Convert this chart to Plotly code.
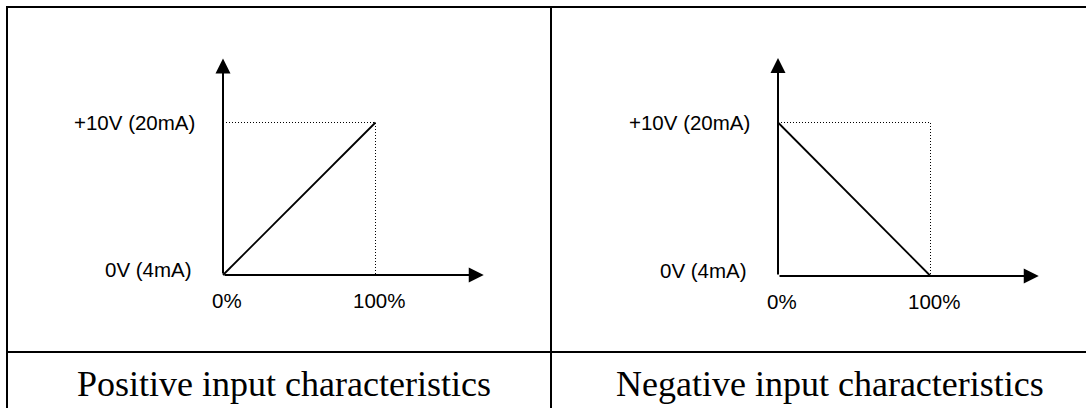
import plotly.graph_objects as go

# ---- data ----
input_pct = [0, 100]                 # x: input signal, %
positive_volts = [0, 10]             # y for positive characteristic (V)
negative_volts = [10, 0]             # y for negative characteristic (V)
x_tick_labels = ["0%", "100%"]
y_tick_labels = ["0V (4mA)", "+10V (20mA)"]
captions = ["Positive input characteristics", "Negative input characteristics"]

# ---- layout geometry (pixels) ----
W, H = 1086, 408
X_END = 171     # x-axis arrow length, in % units
Y_END = 14.2    # y-axis arrow length, in volt units
panels = [
    dict(ox=223, oy=275, x100=375.5, y10=122.5, volts=positive_volts, xa="x", ya="y", cx=284),
    dict(ox=778, oy=276, x100=930.5, y10=122.5, volts=negative_volts, xa="x2", ya="y2", cx=830),
]

SANS = "Liberation Sans, Arial, sans-serif"
SERIF = "Liberation Serif, Times New Roman, serif"

fig = go.Figure()
annotations = []
layout_axes = {}

for i, p in enumerate(panels):
    sx = (p["x100"] - p["ox"]) / input_pct[1]
    sy = (p["oy"] - p["y10"]) / max(p["volts"])
    xr = [-p["ox"] / sx, (W - p["ox"]) / sx]
    yr = [-(H - p["oy"]) / sy, p["oy"] / sy]
    suffix = "" if i == 0 else "2"
    layout_axes["xaxis" + suffix] = dict(domain=[0, 1], range=xr, visible=False, fixedrange=True,
                                         anchor="y" + suffix)
    layout_axes["yaxis" + suffix] = dict(domain=[0, 1], range=yr, visible=False, fixedrange=True,
                                         anchor="x" + suffix)
    vmax = max(p["volts"])
    # dotted guide lines at 10 V and 100 %
    fig.add_trace(go.Scatter(x=[input_pct[0], input_pct[1], input_pct[1]], y=[vmax, vmax, 0],
                             mode="lines", line=dict(color="black", width=1, dash="1px,2px"),
                             xaxis=p["xa"], yaxis=p["ya"], hoverinfo="skip"))
    # characteristic line
    fig.add_trace(go.Scatter(x=input_pct, y=p["volts"], mode="lines",
                             line=dict(color="black", width=1.8),
                             xaxis=p["xa"], yaxis=p["ya"], hoverinfo="skip"))
    # axes with arrowheads
    for (tx, ty) in [(X_END, 0), (0, Y_END)]:
        annotations.append(dict(x=tx, y=ty, ax=0, ay=0, xref=p["xa"], yref=p["ya"],
                                axref=p["xa"], ayref=p["ya"], text="", showarrow=True,
                                arrowhead=2, arrowsize=1.5, arrowwidth=2, arrowcolor="black",
                                standoff=0, startstandoff=0))
    # y labels
    annotations.append(dict(x=0, y=vmax, xref=p["xa"], yref=p["ya"], text=y_tick_labels[1],
                            showarrow=False, xanchor="right", yanchor="middle", xshift=-26,
                            font=dict(family=SANS, size=20.5, color="black")))
    annotations.append(dict(x=0, y=0, xref=p["xa"], yref=p["ya"], text=y_tick_labels[0],
                            showarrow=False, xanchor="right", yanchor="middle", xshift=-29, yshift=6,
                            font=dict(family=SANS, size=20.5, color="black")))
    # x labels
    for xv, lab, xs in zip(input_pct, x_tick_labels, [4, 3]):
        annotations.append(dict(x=xv, y=0, xref=p["xa"], yref=p["ya"], text=lab,
                                showarrow=False, xanchor="center", yanchor="middle",
                                xshift=xs, yshift=-25,
                                font=dict(family=SANS, size=20.5, color="black")))
    # caption
    annotations.append(dict(x=p["cx"] / W, y=1 - 384 / H, xref="paper", yref="paper",
                            text=captions[i], showarrow=False, xanchor="center", yanchor="middle",
                            font=dict(family=SERIF, size=36, color="black")))

# table borders
def px(x):
    return x / W

def py(y):
    return 1 - y / H

shapes = [
    dict(type="line", x0=px(6), x1=px(W + 5), y0=py(7), y1=py(7)),       # top border
    dict(type="line", x0=px(7), x1=px(7), y0=py(6), y1=py(H + 5)),       # left border
    dict(type="line", x0=px(551), x1=px(551), y0=py(6), y1=py(H + 5)),   # middle divider
    dict(type="line", x0=px(6), x1=px(W + 5), y0=py(352), y1=py(352)),   # caption separator
]
for s in shapes:
    s.update(xref="paper", yref="paper", line=dict(color="black", width=2))

fig.update_layout(
    width=W, height=H, margin=dict(l=0, r=0, t=0, b=0),
    paper_bgcolor="white", plot_bgcolor="rgba(0,0,0,0)", showlegend=False,
    annotations=annotations, shapes=shapes, **layout_axes,
)

fig.write_html("out.html", config={"displayModeBar": False},
               post_script="document.body.style.margin='0';document.body.style.overflow='hidden';")
